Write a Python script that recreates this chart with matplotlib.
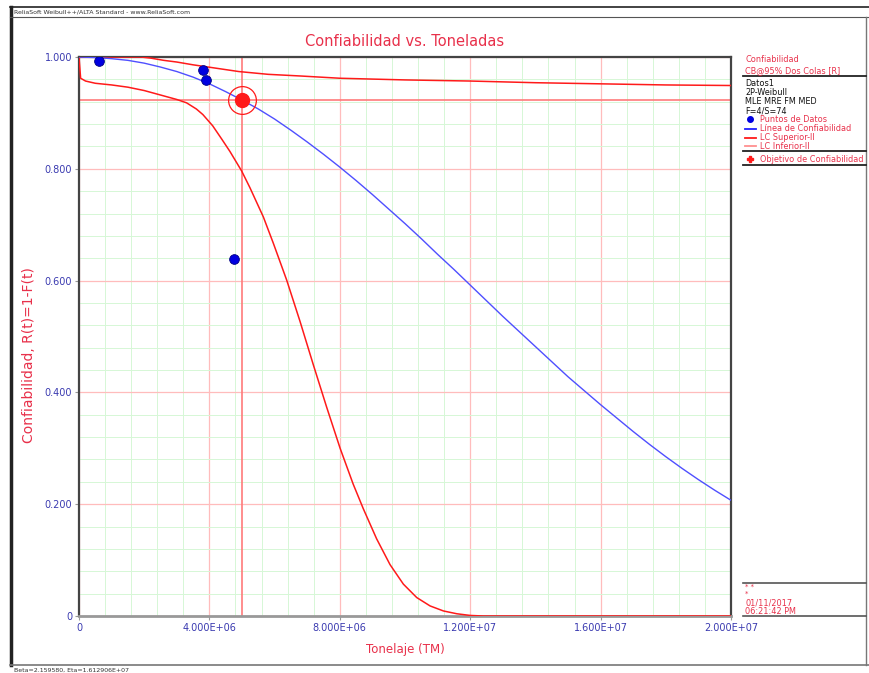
import numpy as np
import matplotlib
matplotlib.use("Agg")
import matplotlib.pyplot as plt
from matplotlib.lines import Line2D
from matplotlib.ticker import MultipleLocator, FixedLocator

## Data
# Linea de confiabilidad (blue)
t_line = [0, 0.5e6, 1e6, 1.5e6, 2e6, 2.5e6, 3e6, 3.5e6, 4e6, 4.5e6, 5e6, 5.5e6,
          6e6, 6.5e6, 7e6, 7.5e6, 8e6, 8.5e6, 9e6, 9.5e6, 1e7, 1.05e7,
          1.1e7, 1.15e7, 1.2e7, 1.25e7, 1.3e7, 1.35e7, 1.4e7, 1.45e7, 1.5e7, 1.55e7,
          1.6e7, 1.65e7, 1.7e7, 1.75e7, 1.8e7, 1.85e7, 1.9e7, 1.95e7, 2e7]
r_line = [1.0, 0.999, 0.997, 0.994, 0.989, 0.982, 0.974, 0.964, 0.952, 0.938, 0.923, 0.907,
          0.889, 0.869, 0.848, 0.826, 0.803, 0.779, 0.754, 0.728, 0.702, 0.675,
          0.647, 0.620, 0.592, 0.564, 0.536, 0.509, 0.482, 0.455, 0.428, 0.403,
          0.378, 0.354, 0.330, 0.307, 0.285, 0.264, 0.244, 0.225, 0.207]

# LC Superior-II
t_sup = [0, 1.9e6, 2.2e6, 2.6e6, 3.0e6, 3.5e6, 4.2e6, 4.9e6, 5.8e6, 6.8e6, 8.0e6,
         1.0e7, 1.2e7, 1.4e7, 1.6e7, 1.8e7, 2.0e7]
r_sup = [1.0, 1.0, 0.998, 0.994, 0.991, 0.986, 0.980, 0.974, 0.969, 0.966, 0.962,
         0.959, 0.957, 0.954, 0.952, 0.950, 0.949]

# LC Inferior-II
t_inf = [0, 0.05e6, 0.2e6, 0.5e6, 1.0e6, 1.5e6, 2.0e6, 2.5e6, 3.0e6, 3.3e6, 3.6e6,
         3.8e6, 4.1e6, 4.38e6, 4.63e6, 4.99e6, 5.245e6, 5.654e6, 5.96e6, 6.37e6,
         6.78e6, 7.19e6, 7.6e6, 8.01e6, 8.41e6, 8.72e6, 9.13e6, 9.54e6, 9.95e6,
         1.036e7, 1.077e7, 1.118e7, 1.159e7, 1.2e7, 1.24e7, 2.0e7]
r_inf = [1.0, 0.962, 0.957, 0.953, 0.950, 0.946, 0.940, 0.932, 0.924, 0.918, 0.907,
         0.897, 0.877, 0.853, 0.831, 0.796, 0.766, 0.714, 0.667, 0.601,
         0.527, 0.449, 0.373, 0.300, 0.236, 0.192, 0.138, 0.092, 0.057,
         0.033, 0.018, 0.009, 0.004, 0.001, 0.0, 0.0]

# Puntos de datos
t_pts = [6.2e5, 3.79e6, 3.89e6, 4.75e6]
r_pts = [0.992, 0.977, 0.959, 0.638]

# Objetivo de confiabilidad
t_obj = 5.0e6
r_obj = 0.923

x_ticks = [0, 4e6, 8e6, 1.2e7, 1.6e7, 2e7]
x_labels = ["0", "4.000E+06", "8.000E+06", "1.200E+07", "1.600E+07", "2.000E+07"]
y_ticks = [0, 0.2, 0.4, 0.6, 0.8, 1.0]
y_labels = ["0", "0.200", "0.400", "0.600", "0.800", "1.000"]

RED = "#ff1a1a"
TXT_RED = "#e8304a"
TICK_BLUE = "#3a3ab0"

W, H = 869, 673
def fx(px):
    return px / W
def fy(py):
    return 1 - py / H

fig = plt.figure(figsize=(W / 100, H / 100), dpi=100)
ax = fig.add_axes([fx(79), fy(616), fx(731) - fx(79), fy(57) - fy(616)])

ax.set_xlim(0, 2e7)
ax.set_ylim(0, 1.0)

# grid: green minor, red major
ax.xaxis.set_major_locator(FixedLocator(x_ticks))
ax.yaxis.set_major_locator(FixedLocator(y_ticks))
ax.xaxis.set_minor_locator(MultipleLocator(8e5))
ax.yaxis.set_minor_locator(MultipleLocator(0.04))
ax.grid(which="minor", color="#d6f7d6", lw=0.7)
ax.grid(which="major", color="#ffbcbc", lw=0.9)
ax.set_axisbelow(True)
ax.set_xticklabels(x_labels)
ax.set_yticklabels(y_labels)
ax.tick_params(which="minor", length=0)
ax.tick_params(which="major", length=3, color="#999999", labelsize=7,
               labelcolor=TICK_BLUE, pad=2)

for s in ["left", "top", "right"]:
    ax.spines[s].set_color("#444444")
    ax.spines[s].set_linewidth(1.6)
ax.spines["bottom"].set_color("#999999")
ax.spines["bottom"].set_linewidth(2)

# target cross lines
ax.axvline(t_obj, color="#ff7a7a", lw=1.2, zorder=2)
ax.axhline(r_obj, color="#ff7a7a", lw=1.2, zorder=2)

ax.plot(t_sup, r_sup, color=RED, lw=1.1, zorder=3)
ax.plot(t_inf, r_inf, color=RED, lw=1.1, zorder=3)
ax.plot(t_line, r_line, color="#4f4fff", lw=1.0, zorder=4)
ax.plot(t_pts, r_pts, "o", color="#0000e0", ms=7, mec="#000080", mew=0.6, zorder=5)
ax.plot([t_obj], [r_obj], "o", color=RED, ms=10, zorder=6)
ax.plot([t_obj], [r_obj], "o", mfc="none", mec=RED, mew=0.9, ms=20, zorder=6)

# titles
fig.text(fx(405), fy(42), "Confiabilidad vs. Toneladas", color=TXT_RED,
         fontsize=10.5, ha="center", va="center")
fig.text(fx(405), fy(649), "Tonelaje (TM)", color=TXT_RED, fontsize=8.5,
         ha="center", va="center")
fig.text(fx(29), fy(355), "Confiabilidad, R(t)=1-F(t)", color=TXT_RED, fontsize=10,
         ha="center", va="center", rotation=90)

# window frame
def fline(x0, y0, x1, y1, c="#222222", lw=1.0):
    fig.add_artist(Line2D([fx(x0), fx(x1)], [fy(y0), fy(y1)], color=c, lw=lw,
                          transform=fig.transFigure))

fline(11, 7, 11, 665, lw=2.5)
fline(10, 7, 869, 7, lw=1.2)
fline(10, 17, 869, 17, c="#555555", lw=0.8)
fline(10, 665, 869, 665, c="#777777", lw=1.2)
fline(866, 17, 866, 665, c="#777777", lw=1.0)
fig.text(fx(14), fy(12), "ReliaSoft Weibull++/ALTA Standard - www.ReliaSoft.com",
         fontsize=4.5, color="#333333", va="center")
fig.text(fx(14), fy(670), "Beta=2.159580, Eta=1.612906E+07",
         fontsize=4.5, color="#333333", va="center")

# side legend panel
LX = 745
fs = 5.9
fig.text(fx(LX), fy(60), "Confiabilidad", color=TXT_RED, fontsize=fs, va="center")
fig.text(fx(LX), fy(71), "CB@95% Dos Colas [R]", color=TXT_RED, fontsize=fs, va="center")
fline(743, 75.5, 866, 75.5, lw=1.3)
info = ["Datos1", "2P-Weibull", "MLE MRE FM MED", "F=4/S=74"]
for i, s in enumerate(info):
    fig.text(fx(LX), fy(83 + 9.3 * i), s, color="#111111", fontsize=fs, va="center")
entries = ["Puntos de Datos", "Línea de Confiabilidad", "LC Superior-II", "LC Inferior-II"]
for i, s in enumerate(entries):
    yy = 120 + 8.8 * i
    fig.text(fx(760), fy(yy), s, color=TXT_RED, fontsize=fs, va="center")
    if i == 0:
        fig.add_artist(Line2D([fx(750)], [fy(yy - 1)], marker="o", ms=4,
                              color="#0000e0", transform=fig.transFigure))
    else:
        col = ["#2020ff", RED, "#ff9090"][i - 1]
        fline(745, yy, 756, yy, c=col, lw=1.3)
fline(743, 151, 866, 151, lw=1.3)
fig.text(fx(760), fy(160), "Objetivo de Confiabilidad", color=TXT_RED, fontsize=fs,
         va="center")
fig.add_artist(Line2D([fx(750)], [fy(159)], marker="P", ms=5, color=RED,
                      transform=fig.transFigure))
fline(743, 164.5, 866, 164.5, lw=1.3)

# date block
fline(743, 583, 866, 583, c="#555555", lw=1.2)
fig.text(fx(LX), fy(587), "* *", color=TXT_RED, fontsize=5, va="center")
fig.text(fx(LX), fy(594), "*", color=TXT_RED, fontsize=5, va="center")
fig.text(fx(LX), fy(602.5), "01/11/2017", color=TXT_RED, fontsize=fs, va="center")
fig.text(fx(LX), fy(611.5), "06:21:42 PM", color=TXT_RED, fontsize=fs, va="center")
fline(743, 616, 866, 616, c="#555555", lw=1.2)

fig.savefig("out.png", dpi=100)
